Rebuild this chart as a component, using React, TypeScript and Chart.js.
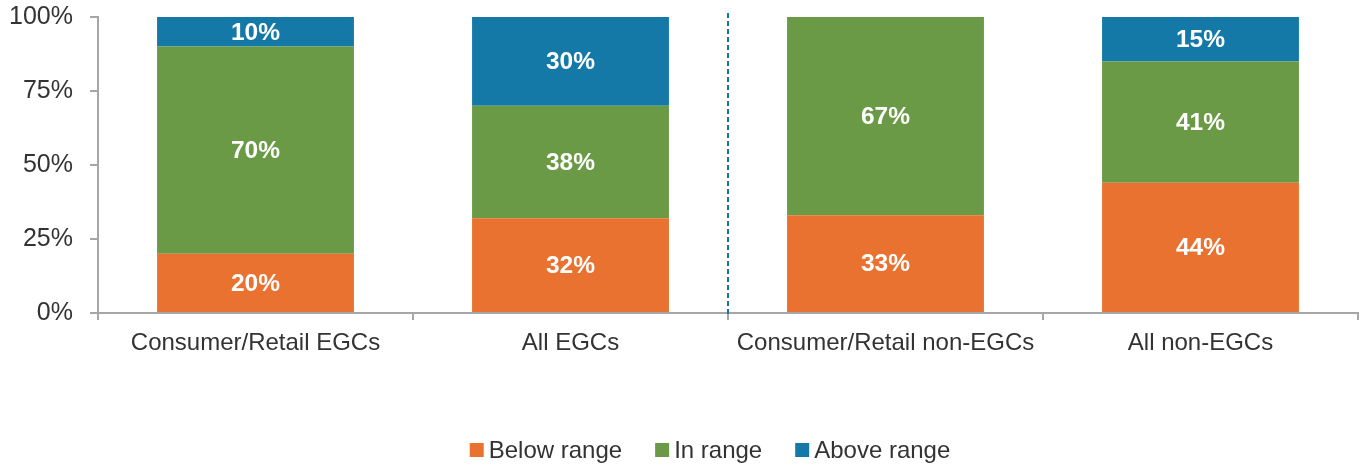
import React, { useEffect, useRef } from "react";
import { Chart, registerables } from "chart.js";

Chart.register(...registerables);

const categories = ["Consumer/Retail EGCs", "All EGCs", "Consumer/Retail non-EGCs", "All non-EGCs"];
const belowRange = [20, 32, 33, 44];
const inRange = [70, 38, 67, 41];
const aboveRange = [10, 30, 0, 15];
const seriesNames = ["Below range", "In range", "Above range"];
const seriesColors = ["#EA7230", "#6A9A45", "#1579A7"];
const yTicks = [0, 25, 50, 75, 100];

const FONT = "'Liberation Sans', Arial, Helvetica, sans-serif";

const dataLabelPlugin = {
  id: "dataLabels",
  afterDatasetsDraw(chart: any) {
    const ctx = chart.ctx;
    ctx.save();
    ctx.fillStyle = "#ffffff";
    ctx.font = `bold 24.5px ${FONT}`;
    ctx.textAlign = "center";
    ctx.textBaseline = "middle";
    chart.data.datasets.forEach((ds: any, di: number) => {
      const meta = chart.getDatasetMeta(di);
      meta.data.forEach((bar: any, i: number) => {
        const v = ds.data[i];
        if (!v) return;
        const props = bar.getProps(["x", "y", "base"], true);
        ctx.fillText(`${v}%`, props.x, (props.y + props.base) / 2 + 1);
      });
    });
    ctx.restore();
  },
};

const dividerPlugin = {
  id: "divider",
  afterDatasetsDraw(chart: any) {
    const x = chart.scales.x;
    const px = (x.getPixelForValue(1) + x.getPixelForValue(2)) / 2;
    const ctx = chart.ctx;
    ctx.save();
    ctx.strokeStyle = "#1579A7";
    ctx.lineWidth = 2;
    ctx.setLineDash([5, 3]);
    ctx.beginPath();
    ctx.moveTo(px, chart.chartArea.top - 4);
    ctx.lineTo(px, chart.chartArea.bottom + 4);
    ctx.stroke();
    ctx.restore();
  },
};

const legendPlugin = {
  id: "customLegend",
  afterDraw(chart: any) {
    const ctx = chart.ctx;
    ctx.save();
    ctx.font = `24px ${FONT}`;
    ctx.textBaseline = "middle";
    ctx.textAlign = "left";
    const box = 14;
    const gap = 5;
    const spacing = 33;
    const names = chart.data.datasets.map((d: any) => d.label);
    const widths = names.map((n: string) => box + gap + ctx.measureText(n).width);
    const total = widths.reduce((a: number, b: number) => a + b, 0) + spacing * (names.length - 1);
    let x = 710 - total / 2;
    const cy = 450;
    chart.data.datasets.forEach((ds: any, i: number) => {
      ctx.fillStyle = ds.backgroundColor;
      ctx.fillRect(x, cy - box / 2, box, box);
      ctx.fillStyle = "#333333";
      ctx.fillText(ds.label, x + box + gap, cy + 1);
      x += widths[i] + spacing;
    });
    ctx.restore();
  },
};

export default function App() {
  const ref = useRef<HTMLCanvasElement>(null);
  useEffect(() => {
    if (!ref.current) return;
    const chart = new Chart(ref.current, {
      type: "bar",
      data: {
        labels: categories,
        datasets: [
          { label: seriesNames[0], data: belowRange, backgroundColor: seriesColors[0] },
          { label: seriesNames[1], data: inRange, backgroundColor: seriesColors[1] },
          { label: seriesNames[2], data: aboveRange, backgroundColor: seriesColors[2] },
        ],
      },
      options: {
        animation: false,
        responsive: false,
        maintainAspectRatio: false,
        layout: { padding: { left: 0, right: 6, top: 17, bottom: 92 } },
        datasets: {
          bar: { categoryPercentage: 1, barPercentage: 0.625, borderWidth: 0 },
        },
        plugins: {
          legend: { display: false },
          tooltip: { enabled: false },
        },
        scales: {
          x: {
            stacked: true,
            offset: true,
            grid: {
              offset: true,
              drawOnChartArea: false,
              drawTicks: true,
              tickLength: 7,
              color: "#A6A6A6",
              lineWidth: 2,
            },
            border: { color: "#A6A6A6", width: 2 },
            ticks: {
              color: "#333333",
              font: { family: FONT, size: 24 },
              padding: 9,
              maxRotation: 0,
              autoSkip: false,
            },
            afterFit: (s: any) => {
              s.height = 60;
              s.paddingLeft = 0;
              s.paddingRight = 0;
            },
          },
          y: {
            stacked: true,
            min: 0,
            max: 100,
            afterBuildTicks: (s: any) => {
              s.ticks = yTicks.map((v) => ({ value: v }));
            },
            grid: {
              drawOnChartArea: false,
              drawTicks: true,
              tickLength: 8,
              color: "#A6A6A6",
              lineWidth: 2,
            },
            border: { color: "#A6A6A6", width: 2 },
            ticks: {
              color: "#333333",
              font: { family: FONT, size: 25 },
              padding: 17,
              callback: (v: any) => `${v}%`,
            },
            afterFit: (s: any) => {
              s.width = 98;
              s.paddingTop = 0;
              s.paddingBottom = 0;
            },
          },
        },
      },
      plugins: [dataLabelPlugin, dividerPlugin, legendPlugin],
    });
    return () => chart.destroy();
  }, []);
  return (
    <div style={{ position: "absolute", left: 0, top: 0, width: 1364, height: 465, background: "#fff" }}>
      <canvas ref={ref} width={1364} height={465} style={{ display: "block" }} />
    </div>
  );
}
